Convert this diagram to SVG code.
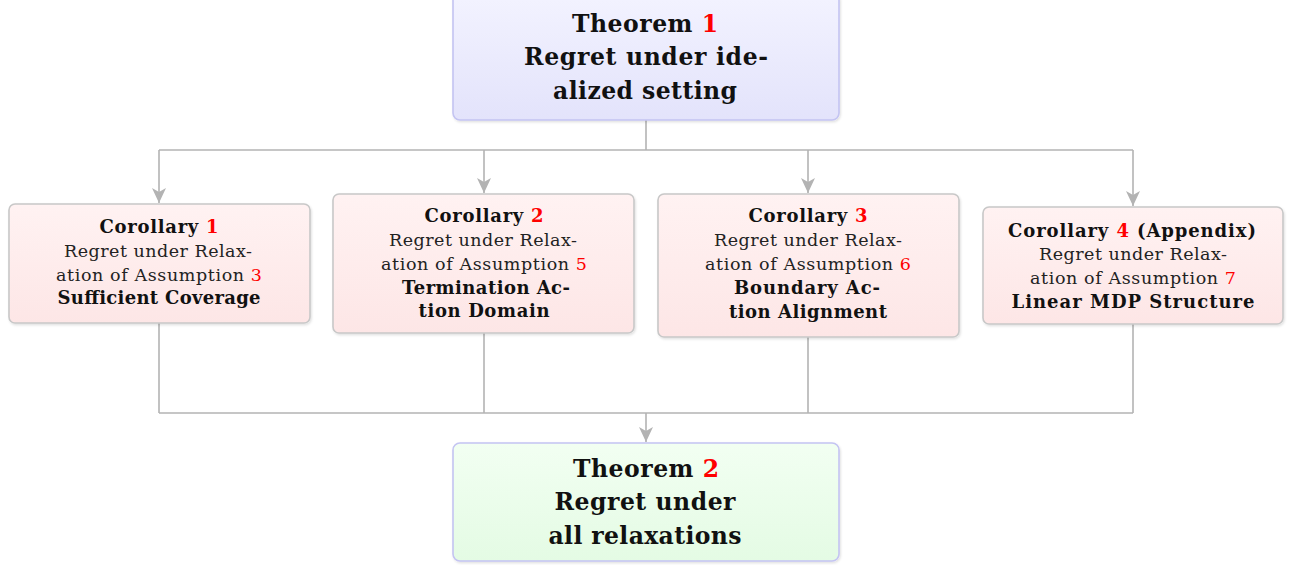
<svg xmlns="http://www.w3.org/2000/svg" width="1294" height="565" viewBox="0 0 1294 565">
<defs>
<linearGradient id="gBlue" x1="0" y1="0" x2="0" y2="1"><stop offset="0" stop-color="#f3f3ff"/><stop offset="1" stop-color="#e3e3fb"/></linearGradient>
<linearGradient id="gRed" x1="0" y1="0" x2="0" y2="1"><stop offset="0" stop-color="#fff2f2"/><stop offset="1" stop-color="#fde6e6"/></linearGradient>
<linearGradient id="gGreen" x1="0" y1="0" x2="0" y2="1"><stop offset="0" stop-color="#f2fff2"/><stop offset="1" stop-color="#e4fbe4"/></linearGradient>
<filter id="sh" x="-5%" y="-5%" width="110%" height="115%"><feDropShadow dx="1" dy="1.5" stdDeviation="1" flood-color="#000" flood-opacity="0.12"/></filter>
<marker id="arr" viewBox="0 0 16 14" refX="15" refY="7" markerWidth="16" markerHeight="14" markerUnits="userSpaceOnUse" orient="auto">
<path d="M0,0 L15,7 L0,14 L4,7 Z" fill="#b3b3b3"/>
</marker>
</defs>
<style>
.thm{fill:url(#gBlue);stroke:#c4c4f2;stroke-width:1.6}
.thm2{fill:url(#gGreen);stroke:#c4c4f2;stroke-width:1.6}
.cor{fill:url(#gRed);stroke:#c8c8c8;stroke-width:1.6}
.big{font-family:"DejaVu Serif","Liberation Serif",serif;font-weight:bold;font-size:23.5px;fill:#111;text-anchor:middle}
.b{font-family:"DejaVu Serif","Liberation Serif",serif;font-weight:bold;font-size:18px;fill:#111;text-anchor:middle}
.r{font-family:"DejaVu Serif","Liberation Serif",serif;font-size:17.5px;fill:#222;text-anchor:middle}
.red{fill:#ff0000}
.conn{fill:none;stroke:#b3b3b3;stroke-width:1.6}
</style>
<g id="connectors">
<path class="conn" d="M646,120 V150"/>
<path class="conn" d="M159,150 H1133"/>
<path class="conn" d="M159,150 V203" marker-end="url(#arr)"/>
<path class="conn" d="M484,150 V193" marker-end="url(#arr)"/>
<path class="conn" d="M808,150 V193" marker-end="url(#arr)"/>
<path class="conn" d="M1133,150 V206" marker-end="url(#arr)"/>
<path class="conn" d="M159,323 V413"/>
<path class="conn" d="M484,333 V413"/>
<path class="conn" d="M808,337 V413"/>
<path class="conn" d="M1133,324 V413"/>
<path class="conn" d="M159,413 H1133"/>
<path class="conn" d="M646,413 V442" marker-end="url(#arr)"/>
</g>
<g id="thm1">
<rect class="thm" x="453" y="-8" width="386" height="128" rx="7" filter="url(#sh)"/>
<text class="big" x="645" y="32" textLength="146">Theorem <tspan class="red">1</tspan></text>
<text class="big" x="646" y="65" textLength="244">Regret under ide-</text>
<text class="big" x="645" y="99" textLength="184">alized setting</text>
</g>
<g id="cor1">
<rect class="cor" x="9" y="204" width="301" height="119" rx="6" filter="url(#sh)"/>
<text class="b" x="159" y="233" textLength="119">Corollary <tspan class="red">1</tspan></text>
<text class="r" x="158" y="257" textLength="188">Regret under Relax-</text>
<text class="r" x="159" y="281" textLength="206">ation of Assumption <tspan class="red">3</tspan></text>
<text class="b" x="159" y="304" textLength="203">Sufficient Coverage</text>
</g>
<g id="cor2">
<rect class="cor" x="333" y="194" width="301" height="139" rx="6" filter="url(#sh)"/>
<text class="b" x="484" y="222" textLength="119">Corollary <tspan class="red">2</tspan></text>
<text class="r" x="483" y="246" textLength="188">Regret under Relax-</text>
<text class="r" x="484" y="270" textLength="206">ation of Assumption <tspan class="red">5</tspan></text>
<text class="b" x="486" y="294" textLength="168">Termination Ac-</text>
<text class="b" x="484" y="317" textLength="131">tion Domain</text>
</g>
<g id="cor3">
<rect class="cor" x="658" y="194" width="301" height="143" rx="6" filter="url(#sh)"/>
<text class="b" x="808" y="222" textLength="119">Corollary <tspan class="red">3</tspan></text>
<text class="r" x="808" y="246" textLength="188">Regret under Relax-</text>
<text class="r" x="808" y="270" textLength="206">ation of Assumption <tspan class="red">6</tspan></text>
<text class="b" x="807" y="294" textLength="146">Boundary Ac-</text>
<text class="b" x="808" y="318" textLength="158">tion Alignment</text>
</g>
<g id="cor4">
<rect class="cor" x="983" y="207" width="300" height="117" rx="6" filter="url(#sh)"/>
<text class="b" x="1132" y="237" textLength="248">Corollary <tspan class="red">4</tspan> (Appendix)</text>
<text class="r" x="1133" y="260" textLength="188">Regret under Relax-</text>
<text class="r" x="1133" y="284" textLength="206">ation of Assumption <tspan class="red">7</tspan></text>
<text class="b" x="1133" y="308" textLength="243">Linear MDP Structure</text>
</g>
<g id="thm2">
<rect class="thm2" x="453" y="443" width="386" height="118" rx="7" filter="url(#sh)"/>
<text class="big" x="646" y="477" textLength="146">Theorem <tspan class="red">2</tspan></text>
<text class="big" x="645" y="510" textLength="181">Regret under</text>
<text class="big" x="645" y="544" textLength="193">all relaxations</text>
</g>
</svg>
